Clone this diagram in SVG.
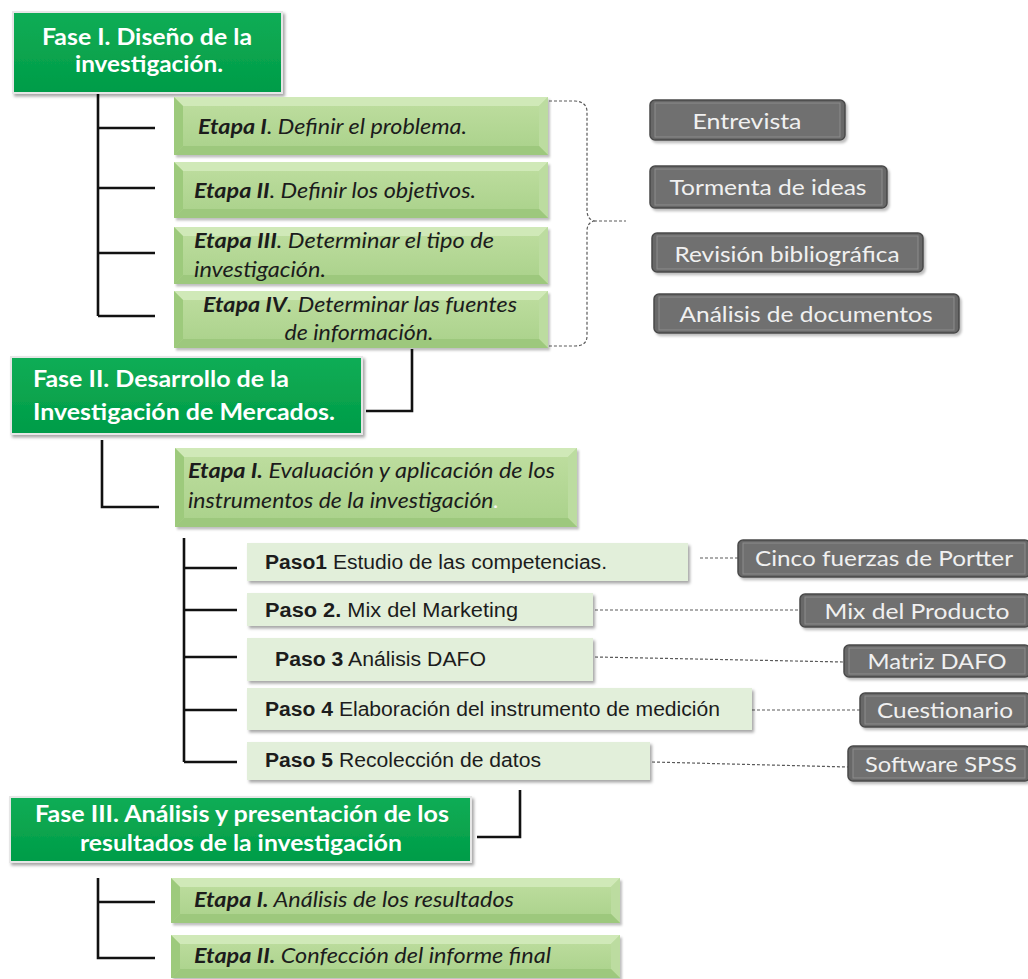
<svg xmlns="http://www.w3.org/2000/svg" width="1028" height="979" viewBox="0 0 1028 979">
<defs>
<linearGradient id="gFase" x1="0" y1="0" x2="0" y2="1"><stop offset="0" stop-color="#0fad55"/><stop offset="1" stop-color="#019c48"/></linearGradient>
<linearGradient id="gEt" x1="0" y1="0" x2="0" y2="1"><stop offset="0" stop-color="#bfdea0"/><stop offset="1" stop-color="#a9d18a"/></linearGradient>
<filter id="sh" x="-5%" y="-15%" width="115%" height="140%"><feDropShadow dx="2" dy="2.5" stdDeviation="1.6" flood-color="#000" flood-opacity="0.35"/></filter>
<filter id="shl" x="-5%" y="-15%" width="115%" height="140%"><feDropShadow dx="2" dy="2.5" stdDeviation="1.2" flood-color="#000" flood-opacity="0.25"/></filter>
</defs>
<style>
.fase{fill:url(#gFase);stroke:#e6e6e6;stroke-width:2;filter:url(#sh)}
.ftxt{font-family:Lato,"Liberation Sans",sans-serif;font-weight:bold;font-size:23px;fill:#fff}
.face{fill:url(#gEt);filter:url(#shl)}
.bt{fill:#d0e9b8}
.bl{fill:#9dca7c}
.br{fill:#bcdca0}
.bb{fill:#9dc87d}
.etxt{font-family:Lato,"Liberation Sans",sans-serif;font-style:italic;font-size:21px;fill:#1c1c1c}
.b{font-weight:bold}
.gout{fill:#676767;stroke:#4a4a4a;stroke-width:1.5;filter:url(#shl)}
.gin{fill:#707070;stroke:#8c8c8c;stroke-width:1}
.gtxt{font-family:Lato,"Liberation Sans",sans-serif;font-size:22px;fill:#f0f0f0}
.paso{fill:#e2efda;filter:url(#sh)}
.ptxt{font-family:"Liberation Sans",Arial,sans-serif;font-size:19.5px;fill:#1c1c1c}
.conn{fill:none;stroke:#111;stroke-width:2.6;stroke-linejoin:miter}
.dot{fill:none;stroke:#5a5a5a;stroke-width:1.2;stroke-dasharray:3 2}
</style>

<g id="connectors">
<path class="conn" d="M98,94 V316 M98,128 H155 M98,188 H155 M98,253 H155 M98,316 H155"/>
<path class="conn" d="M412,349 V411 H366"/>
<path class="conn" d="M102,440 V507 H159"/>
<path class="conn" d="M184,538 V762 M184,568 H237 M184,610 H237 M184,657 H237 M184,710 H237 M184,762 H237"/>
<path class="conn" d="M520,790 V837 H477"/>
<path class="conn" d="M98,878 V958 H155 M98,902 H155"/>
<path class="dot" d="M549,101 L575,101 Q587,102 587,112 L587,210 Q587,219 594,221 Q587,223 587,231 L587,336 Q587,346 575,346 L549,346"/>
<path class="dot" d="M594,221 H626"/>
<path class="dot" d="M700,558 H738"/>
<path class="dot" d="M595,610 H800"/>
<path class="dot" d="M595,657 L844,662"/>
<path class="dot" d="M752,710 H860"/>
<path class="dot" d="M652,762 L848,767"/>
</g>

<g id="fase1">
<rect class="fase" x="13" y="12" width="269" height="81"/>
<text class="ftxt" x="147" y="45" text-anchor="middle" textLength="210" lengthAdjust="spacingAndGlyphs">Fase I. Diseño de la</text>
<text class="ftxt" x="149" y="72" text-anchor="middle" textLength="148" lengthAdjust="spacingAndGlyphs">investigación.</text>
</g>

<g id="f1-etapa1">
<rect class="face" x="174" y="97" width="374" height="58"/>
<polygon class="bt" points="174,97 548,97 539,106 183,106"/>
<polygon class="bl" points="174,97 183,106 183,146 174,155"/>
<polygon class="br" points="548,97 548,155 539,146 539,106"/>
<polygon class="bb" points="174,155 183,146 539,146 548,155"/>
<text class="etxt" x="198" y="134" textLength="269" lengthAdjust="spacingAndGlyphs"><tspan class="b">Etapa I</tspan>. Definir el problema.</text>
</g>

<g id="f1-etapa2">
<rect class="face" x="174" y="162" width="374" height="56"/>
<polygon class="bt" points="174,162 548,162 539,171 183,171"/>
<polygon class="bl" points="174,162 183,171 183,209 174,218"/>
<polygon class="br" points="548,162 548,218 539,209 539,171"/>
<polygon class="bb" points="174,218 183,209 539,209 548,218"/>
<text class="etxt" x="194" y="198" textLength="282" lengthAdjust="spacingAndGlyphs"><tspan class="b">Etapa II</tspan>. Definir los objetivos.</text>
</g>

<g id="f1-etapa3">
<rect class="face" x="174" y="227" width="374" height="57"/>
<polygon class="bt" points="174,227 548,227 539,236 183,236"/>
<polygon class="bl" points="174,227 183,236 183,275 174,284"/>
<polygon class="br" points="548,227 548,284 539,275 539,236"/>
<polygon class="bb" points="174,284 183,275 539,275 548,284"/>
<text class="etxt" x="194" y="248" textLength="300" lengthAdjust="spacingAndGlyphs"><tspan class="b">Etapa III</tspan>. Determinar el tipo de</text>
<text class="etxt" x="194" y="277" textLength="132" lengthAdjust="spacingAndGlyphs">investigación.</text>
</g>

<g id="f1-etapa4">
<rect class="face" x="174" y="291" width="374" height="57"/>
<polygon class="bt" points="174,291 548,291 539,300 183,300"/>
<polygon class="bl" points="174,291 183,300 183,339 174,348"/>
<polygon class="br" points="548,291 548,348 539,339 539,300"/>
<polygon class="bb" points="174,348 183,339 539,339 548,348"/>
<text class="etxt" x="360" y="312" text-anchor="middle" textLength="314" lengthAdjust="spacingAndGlyphs"><tspan class="b">Etapa IV</tspan>. Determinar las fuentes</text>
<text class="etxt" x="359" y="340" text-anchor="middle" textLength="149" lengthAdjust="spacingAndGlyphs">de información.</text>
</g>

<g id="tec-entrevista">
<rect class="gout" x="650" y="100" width="195" height="40" rx="5"/>
<rect class="gin" x="655" y="103" width="185" height="34"/>
<text class="gtxt" x="747" y="129" text-anchor="middle" textLength="109" lengthAdjust="spacingAndGlyphs">Entrevista</text>
</g>
<g id="tec-tormenta">
<rect class="gout" x="650" y="166" width="237" height="42" rx="5"/>
<rect class="gin" x="655" y="169" width="227" height="36"/>
<text class="gtxt" x="768" y="195" text-anchor="middle" textLength="197" lengthAdjust="spacingAndGlyphs">Tormenta de ideas</text>
</g>
<g id="tec-revision">
<rect class="gout" x="652" y="233" width="271" height="39" rx="5"/>
<rect class="gin" x="657" y="236" width="261" height="33"/>
<text class="gtxt" x="787" y="262" text-anchor="middle" textLength="225" lengthAdjust="spacingAndGlyphs">Revisión bibliográfica</text>
</g>
<g id="tec-analisis">
<rect class="gout" x="654" y="294" width="305" height="39" rx="5"/>
<rect class="gin" x="659" y="297" width="295" height="33"/>
<text class="gtxt" x="806" y="322" text-anchor="middle" textLength="253" lengthAdjust="spacingAndGlyphs">Análisis de documentos</text>
</g>

<g id="fase2">
<rect class="fase" x="11" y="357" width="351" height="77"/>
<text class="ftxt" x="33" y="387" textLength="256" lengthAdjust="spacingAndGlyphs">Fase II. Desarrollo de la</text>
<text class="ftxt" x="33" y="420" textLength="302" lengthAdjust="spacingAndGlyphs">Investigación de Mercados.</text>
</g>

<g id="f2-etapa1">
<rect class="face" x="175" y="448" width="402" height="79"/>
<polygon class="bt" points="175,448 577,448 568,457 184,457"/>
<polygon class="bl" points="175,448 184,457 184,518 175,527"/>
<polygon class="br" points="577,448 577,527 568,518 568,457"/>
<polygon class="bb" points="175,527 184,518 568,518 577,527"/>
<text class="etxt" x="188" y="478" textLength="367" lengthAdjust="spacingAndGlyphs"><tspan class="b">Etapa I.</tspan> Evaluación y aplicación de los</text>
<text class="etxt" x="188" y="508" textLength="311" lengthAdjust="spacingAndGlyphs">instrumentos de la investigación<tspan fill="#f4f4f4">.</tspan></text>
</g>

<g id="paso1">
<rect class="paso" x="247" y="543" width="441" height="38"/>
<text class="ptxt" x="265" y="569" textLength="342" lengthAdjust="spacingAndGlyphs"><tspan class="b">Paso1</tspan> Estudio de las competencias.</text>
</g>
<g id="paso2">
<rect class="paso" x="247" y="593" width="346" height="33"/>
<text class="ptxt" x="265" y="617" textLength="253" lengthAdjust="spacingAndGlyphs"><tspan class="b">Paso 2.</tspan> Mix del Marketing</text>
</g>
<g id="paso3">
<rect class="paso" x="247" y="638" width="346" height="43"/>
<text class="ptxt" x="275" y="666" textLength="211" lengthAdjust="spacingAndGlyphs"><tspan class="b">Paso 3</tspan> Análisis DAFO</text>
</g>
<g id="paso4">
<rect class="paso" x="247" y="688" width="505" height="42"/>
<text class="ptxt" x="265" y="716" textLength="455" lengthAdjust="spacingAndGlyphs"><tspan class="b">Paso 4</tspan> Elaboración del instrumento de medición</text>
</g>
<g id="paso5">
<rect class="paso" x="247" y="742" width="403" height="38"/>
<text class="ptxt" x="265" y="767" textLength="276" lengthAdjust="spacingAndGlyphs"><tspan class="b">Paso 5</tspan> Recolección de datos</text>
</g>

<g id="tec-cinco">
<rect class="gout" x="738" y="540" width="292" height="37" rx="5"/>
<rect class="gin" x="743" y="543" width="282" height="31"/>
<text class="gtxt" x="884" y="566" text-anchor="middle" textLength="258" lengthAdjust="spacingAndGlyphs">Cinco fuerzas de Portter</text>
</g>
<g id="tec-mix">
<rect class="gout" x="800" y="594" width="230" height="33" rx="5"/>
<rect class="gin" x="805" y="597" width="220" height="27"/>
<text class="gtxt" x="917" y="619" text-anchor="middle" textLength="185" lengthAdjust="spacingAndGlyphs">Mix del Producto</text>
</g>
<g id="tec-matriz">
<rect class="gout" x="844" y="645" width="186" height="32" rx="5"/>
<rect class="gin" x="849" y="648" width="176" height="26"/>
<text class="gtxt" x="937" y="669" text-anchor="middle" textLength="139" lengthAdjust="spacingAndGlyphs">Matriz DAFO</text>
</g>
<g id="tec-cuestionario">
<rect class="gout" x="860" y="693" width="170" height="34" rx="5"/>
<rect class="gin" x="865" y="696" width="160" height="28"/>
<text class="gtxt" x="945" y="718" text-anchor="middle" textLength="136" lengthAdjust="spacingAndGlyphs">Cuestionario</text>
</g>
<g id="tec-spss">
<rect class="gout" x="848" y="746" width="182" height="35" rx="5"/>
<rect class="gin" x="853" y="749" width="172" height="29"/>
<text class="gtxt" x="941" y="772" text-anchor="middle" textLength="152" lengthAdjust="spacingAndGlyphs">Software SPSS</text>
</g>

<g id="fase3">
<rect class="fase" x="10" y="797" width="461" height="65"/>
<text class="ftxt" x="242" y="822" text-anchor="middle" textLength="414" lengthAdjust="spacingAndGlyphs">Fase III. Análisis y presentación de los</text>
<text class="ftxt" x="241" y="851" text-anchor="middle" textLength="322" lengthAdjust="spacingAndGlyphs">resultados de la investigación</text>
</g>

<g id="f3-etapa1">
<rect class="face" x="171" y="878" width="449" height="45"/>
<polygon class="bt" points="171,878 620,878 611,887 180,887"/>
<polygon class="bl" points="171,878 180,887 180,914 171,923"/>
<polygon class="br" points="620,878 620,923 611,914 611,887"/>
<polygon class="bb" points="171,923 180,914 611,914 620,923"/>
<text class="etxt" x="194" y="907" textLength="320" lengthAdjust="spacingAndGlyphs"><tspan class="b">Etapa I.</tspan> Análisis de los resultados</text>
</g>

<g id="f3-etapa2">
<rect class="face" x="171" y="935" width="449" height="43"/>
<polygon class="bt" points="171,935 620,935 611,944 180,944"/>
<polygon class="bl" points="171,935 180,944 180,969 171,978"/>
<polygon class="br" points="620,935 620,978 611,969 611,944"/>
<polygon class="bb" points="171,978 180,969 611,969 620,978"/>
<text class="etxt" x="194" y="963" textLength="357" lengthAdjust="spacingAndGlyphs"><tspan class="b">Etapa II.</tspan> Confección del informe final</text>
</g>
</svg>
